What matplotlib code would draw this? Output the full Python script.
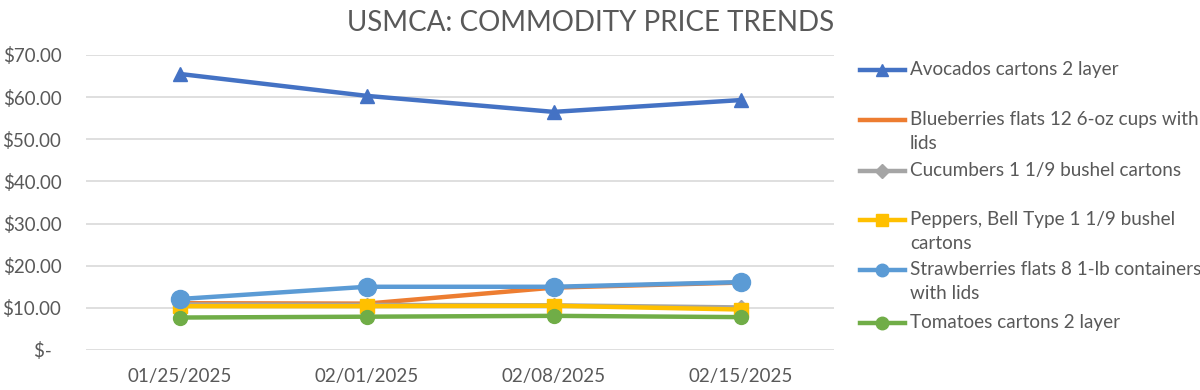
import matplotlib
matplotlib.use("Agg")
import matplotlib.pyplot as plt
from matplotlib.lines import Line2D
from matplotlib.ticker import FuncFormatter
import numpy as np

# -----------------------------
# Data
# -----------------------------
dates = ["01/25/2025", "02/01/2025", "02/08/2025", "02/15/2025"]

avocados = [65.5, 60.3, 56.5, 59.3]
blueberries = [11.1, 11.0, 14.8, 16.0]
cucumbers = [10.8, 10.7, 10.6, 10.1]
peppers = [10.4, 10.4, 10.5, 9.6]
strawberries = [12.1, 15.0, 15.0, 16.1]
tomatoes = [7.7, 7.9, 8.1, 7.8]

labels = [
    "Avocados cartons 2 layer",
    "Blueberries flats 12 6-oz cups with\nlids",
    "Cucumbers 1 1/9 bushel cartons",
    "Peppers, Bell Type 1 1/9 bushel\ncartons",
    "Strawberries flats 8 1-lb containers\nwith lids",
    "Tomatoes cartons 2 layer",
]
series = [avocados, blueberries, cucumbers, peppers, strawberries, tomatoes]
colors = ["#4472C4", "#ED7D31", "#A5A5A5", "#FFC000", "#5B9BD5", "#70AD47"]
markers = ["^", None, "D", "s", "o", "o"]
msizes = [10, 0, 7, 10, 13, 10]

plt.rcParams["font.family"] = ["Lato", "DejaVu Sans"]
text_color = "#595959"

# -----------------------------
# Plot
# -----------------------------
fig = plt.figure(figsize=(12, 3.9), dpi=100)
ax = fig.add_axes([0.072, 0.1026, 0.623, 0.7564])

x = np.arange(len(dates))
for vals, col, mk, ms in zip(series, colors, markers, msizes):
    ax.plot(x, vals, color=col, linewidth=3.2, marker=mk, markersize=ms,
            solid_capstyle="round", zorder=3)

ax.set_xlim(-0.5, len(dates) - 0.5)
ax.set_ylim(0, 70)
ax.set_yticks(np.arange(0, 71, 10))
ax.yaxis.set_major_formatter(FuncFormatter(
    lambda v, p: "$-  " if v == 0 else f"${v:.2f}"))
ax.set_xticks(x)
ax.set_xticklabels(dates)

ax.grid(axis="y", color="#D9D9D9", linewidth=1.2, zorder=0)
for s in ax.spines.values():
    s.set_visible(False)
ax.tick_params(axis="both", length=0, labelsize=13.5, labelcolor=text_color)
ax.tick_params(axis="y", pad=18)
ax.tick_params(axis="x", pad=13)

fig.text(0.492, 0.94, "USMCA: COMMODITY PRICE TRENDS", ha="center",
         va="center", fontsize=20, color=text_color)

# -----------------------------
# Legend (drawn by hand to match the spacing)
# -----------------------------
legend_y = [70, 120, 171, 220, 270, 323]
for ly, lab, col, mk, ms in zip(legend_y, labels, colors, markers, msizes):
    yf = 1 - ly / 390
    fig.add_artist(Line2D([860 / 1200, 905 / 1200], [yf, yf], color=col,
                          linewidth=3.2, transform=fig.transFigure))
    if mk:
        fig.add_artist(Line2D([882 / 1200], [yf], color=col, marker=mk,
                              markersize=min(ms, 9), transform=fig.transFigure))
    fig.text(910 / 1200, yf + 9 / 390, lab, ha="left", va="top",
             fontsize=13.6, color=text_color, linespacing=1.5)

fig.savefig("out.png", dpi=100)
